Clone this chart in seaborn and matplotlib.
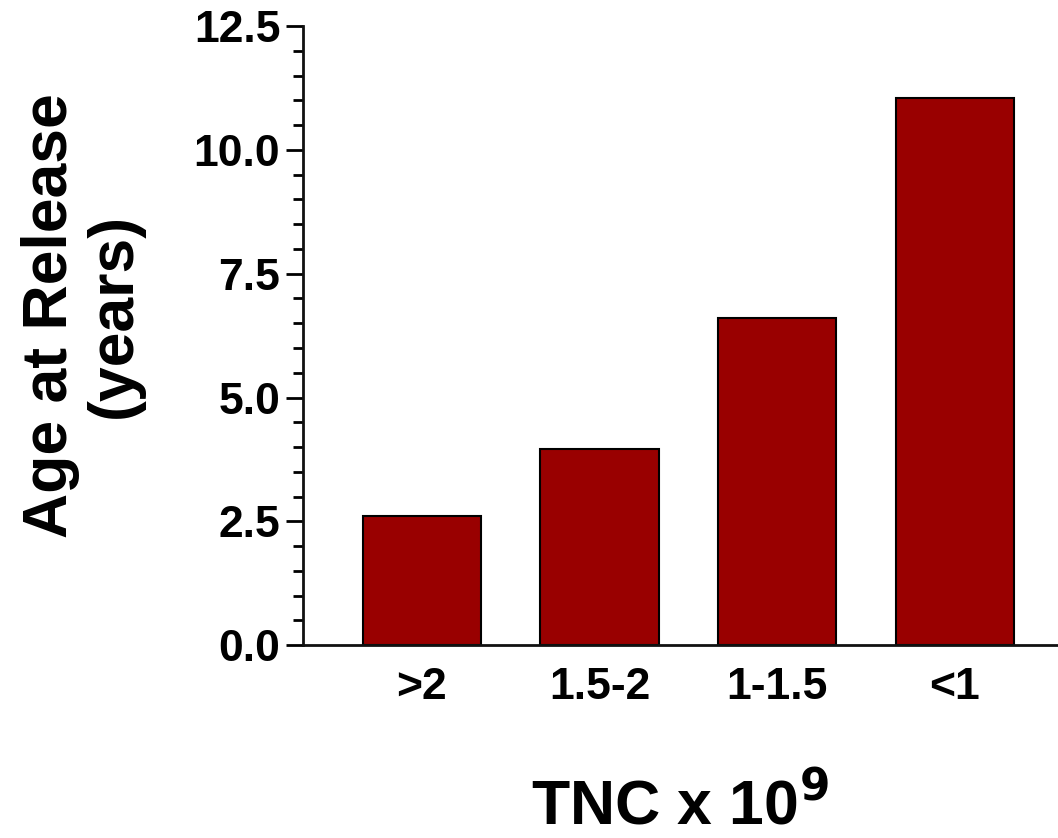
import matplotlib
matplotlib.use('Agg')
import matplotlib.pyplot as plt
import seaborn as sns
import pandas as pd
from matplotlib.ticker import MultipleLocator

# data
groups = ['>2', '1.5-2', '1-1.5', '<1']
age = [2.6, 3.96, 6.6, 11.05]

df = pd.DataFrame({'TNC': groups, 'Age': age})

sns.set_style('ticks')
plt.rcParams['font.family'] = ['Liberation Sans', 'DejaVu Sans']
plt.rcParams['font.weight'] = 'bold'
plt.rcParams['text.color'] = 'black'
plt.rcParams['axes.labelcolor'] = 'black'
plt.rcParams['xtick.color'] = 'black'
plt.rcParams['ytick.color'] = 'black'

fig = plt.figure(figsize=(10.58, 8.38), dpi=100)
ax = fig.add_axes([0.286, 0.23, 0.714, 0.739])

sns.barplot(data=df, x='TNC', y='Age', color='#990000', width=0.665,
            edgecolor='black', linewidth=1.5, saturation=1, ax=ax)

ax.set_ylim(0, 12.5)
ax.set_xlim(-0.67, 3.58)
ax.yaxis.set_major_locator(MultipleLocator(2.5))
ax.yaxis.set_minor_locator(MultipleLocator(0.5))
ax.yaxis.set_major_formatter(matplotlib.ticker.FormatStrFormatter('%.1f'))

sns.despine(ax=ax)
for s in ['left', 'bottom']:
    ax.spines[s].set_linewidth(2)
    ax.spines[s].set_color('#111111')

ax.tick_params(axis='y', which='major', length=12, width=2, labelsize=32, pad=4)
ax.tick_params(axis='y', which='minor', length=7, width=2)
ax.tick_params(axis='x', length=0, labelsize=32, pad=16)
for lab in ax.get_xticklabels() + ax.get_yticklabels():
    lab.set_fontweight('bold')

ax.set_xlabel('TNC x 10$^{\\mathbf{9}}$', fontsize=45, fontweight='bold')
ax.xaxis.set_label_coords(0.5, -0.21)
ax.set_ylabel('Age at Release\n(years)', fontsize=45, fontweight='bold',
              linespacing=1.1)
ax.yaxis.set_label_coords(-0.21, 0.533)

fig.savefig('out.png', dpi=100)
